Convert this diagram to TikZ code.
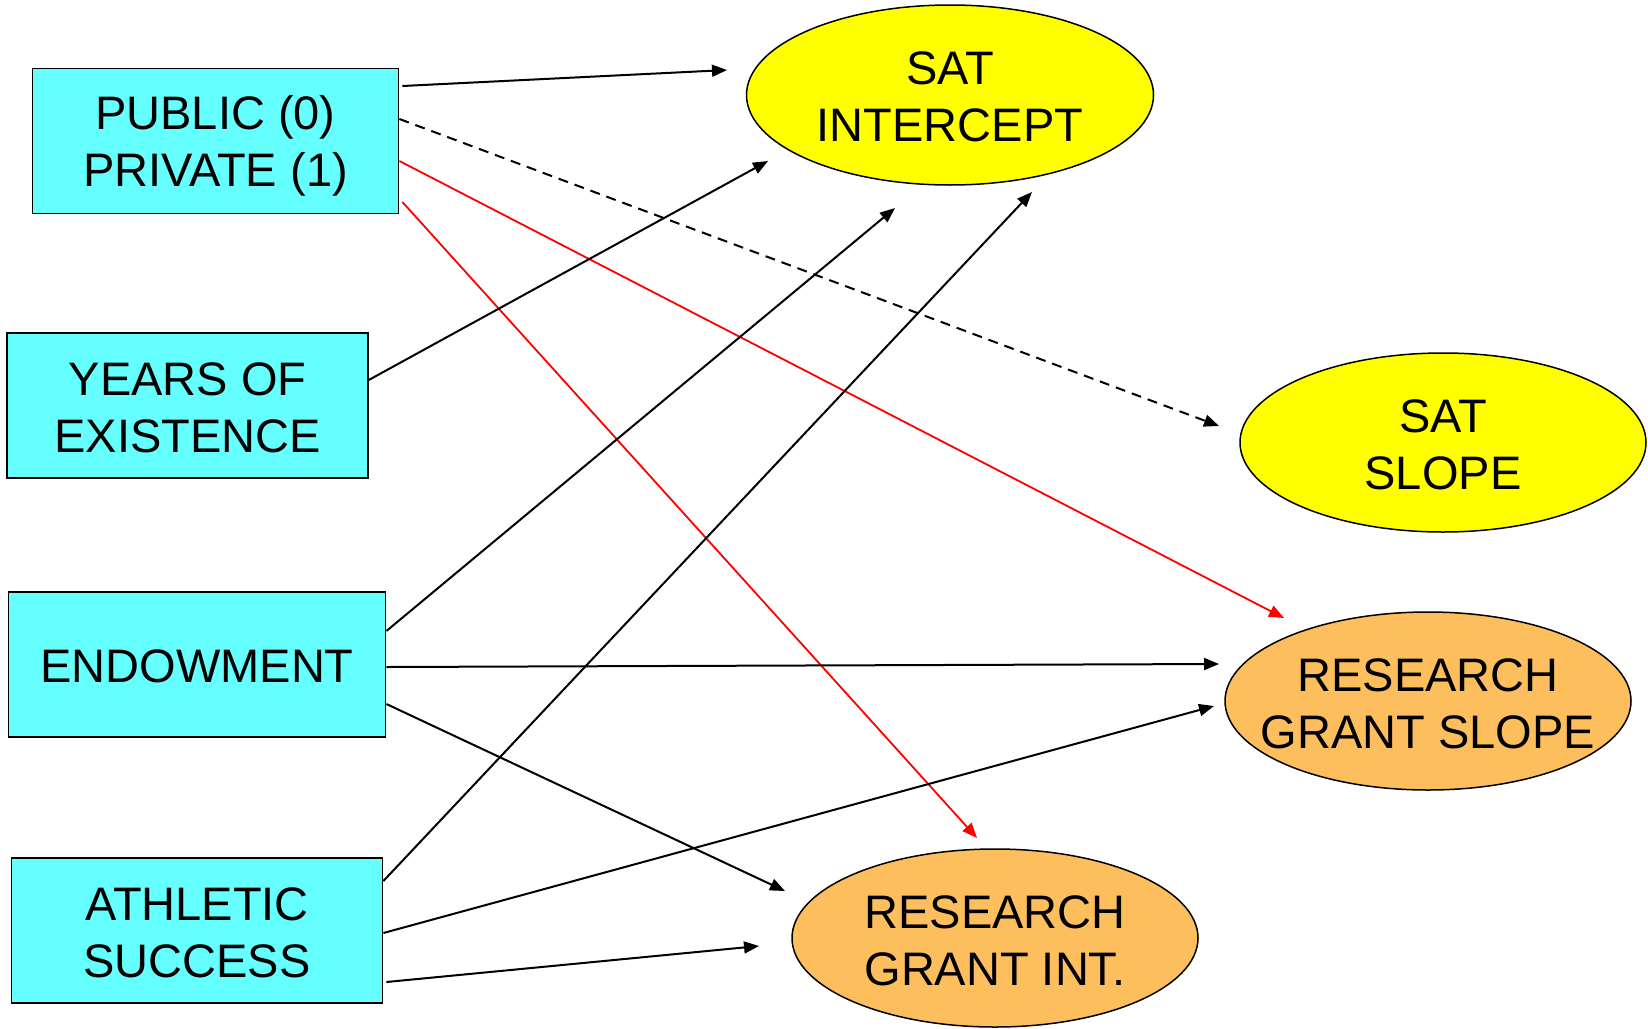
\documentclass[tikz,border=0pt]{standalone}
\usepackage{fontspec}
\setmainfont{Liberation Sans}
\usetikzlibrary{shapes.geometric,arrows.meta,calc}
\definecolor{boxcyan}{HTML}{66FFFF}
\definecolor{satyellow}{HTML}{FFFF00}
\definecolor{grantorange}{HTML}{FDBE5E}
\definecolor{arrred}{HTML}{FF0000}
\tikzset{
  varbox/.style={draw=black, line width=1.8pt, fill=boxcyan, rectangle, inner sep=0pt},
  boxtext/.style={align=center, font=\fontsize{47}{57}\selectfont, inner sep=0pt},
  outell/.style={draw=black, line width=1.5pt, ellipse, inner sep=0pt},
  elltext/.style={align=center, font=\fontsize{47}{57}\selectfont, inner sep=0pt},
  conn/.style={line width=2pt, -{Triangle[length=15pt,width=12pt]}},
  redconn/.style={conn, draw=arrred, line width=1.8pt, -{Triangle[length=15pt,width=12pt,fill=arrred]}},
  dashconn/.style={conn, dash pattern=on 10pt off 7pt}
}
\begin{document}
\begin{tikzpicture}[x=1pt,y=-1pt]
\useasboundingbox (0,0) rectangle (1648,1028);
\fill[white] (0,0) rectangle (1648,1028);
% boxes
\node[varbox, minimum width=366pt, minimum height=145pt] (pub) at (215.5,140.9) {};
\node[boxtext] at ($(pub)+(0,5)$) {PUBLIC (0)\\PRIVATE (1)};
\node[varbox, minimum width=360.5pt, minimum height=145pt] (yrs) at (187.6,405.7) {};
\node[boxtext] at ($(yrs)+(0,2.5)$) {YEARS OF\\EXISTENCE};
\node[varbox, minimum width=377pt, minimum height=145pt] (end) at (197,664.3) {};
\node[boxtext] at ($(end)+(0,2.5)$) {ENDOWMENT};
\node[varbox, minimum width=371pt, minimum height=145pt] (ath) at (197,930.2) {};
\node[boxtext] at ($(ath)+(0,2.5)$) {ATHLETIC\\SUCCESS};
% ellipses
\node[outell, fill=satyellow, minimum width=407pt, minimum height=180pt] (si) at (950,95) {};
\node[elltext] at ($(si)+(0,2)$) {SAT\\INTERCEPT};
\node[outell, fill=satyellow, minimum width=406pt, minimum height=179pt] (ss) at (1443,442.5) {};
\node[elltext] at ($(ss)+(0,2)$) {SAT\\SLOPE};
\node[outell, fill=grantorange, minimum width=406pt, minimum height=178pt] (gs) at (1428,701) {};
\node[elltext] at ($(gs)+(0,2.5)$) {RESEARCH\\GRANT SLOPE};
\node[outell, fill=grantorange, minimum width=406pt, minimum height=178pt] (gi) at (995,938) {};
\node[elltext] at ($(gi)+(0,2.5)$) {RESEARCH\\GRANT INT.};
% arrow end points
\coordinate (e1) at (727,70);
\coordinate (e2) at (1219,426);
\coordinate (e3) at (1284,618);
\coordinate (e4) at (977,838);
\coordinate (e5) at (768,161);
\coordinate (e6) at (895,208);
\coordinate (e7) at (1219,664);
\coordinate (e8) at (785,891);
\coordinate (e9) at (1032,192);
\coordinate (e10) at (1214,706);
\coordinate (e11) at (759,946);
% connectors
\draw[conn] ($(pub.east |- 0,86)+(3,0)$) -- (e1);
\draw[dashconn] (pub.east |- 0,119) -- (e2);
\draw[redconn] (pub.east |- 0,161) -- (e3);
\draw[redconn] ($(pub.east |- 0,202)+(3,0)$) -- (e4);
\draw[conn] (yrs.east |- 0,380) -- (e5);
\draw[conn] (end.east |- 0,631) -- (e6);
\draw[conn] (end.east |- 0,667) -- (e7);
\draw[conn] (end.east |- 0,704) -- (e8);
\draw[conn] (ath.east |- 0,881) -- (e9);
\draw[conn] (ath.east |- 0,933) -- (e10);
\draw[conn] ($(ath.east |- 0,982)+(3,0)$) -- (e11);
\end{tikzpicture}
\end{document}
